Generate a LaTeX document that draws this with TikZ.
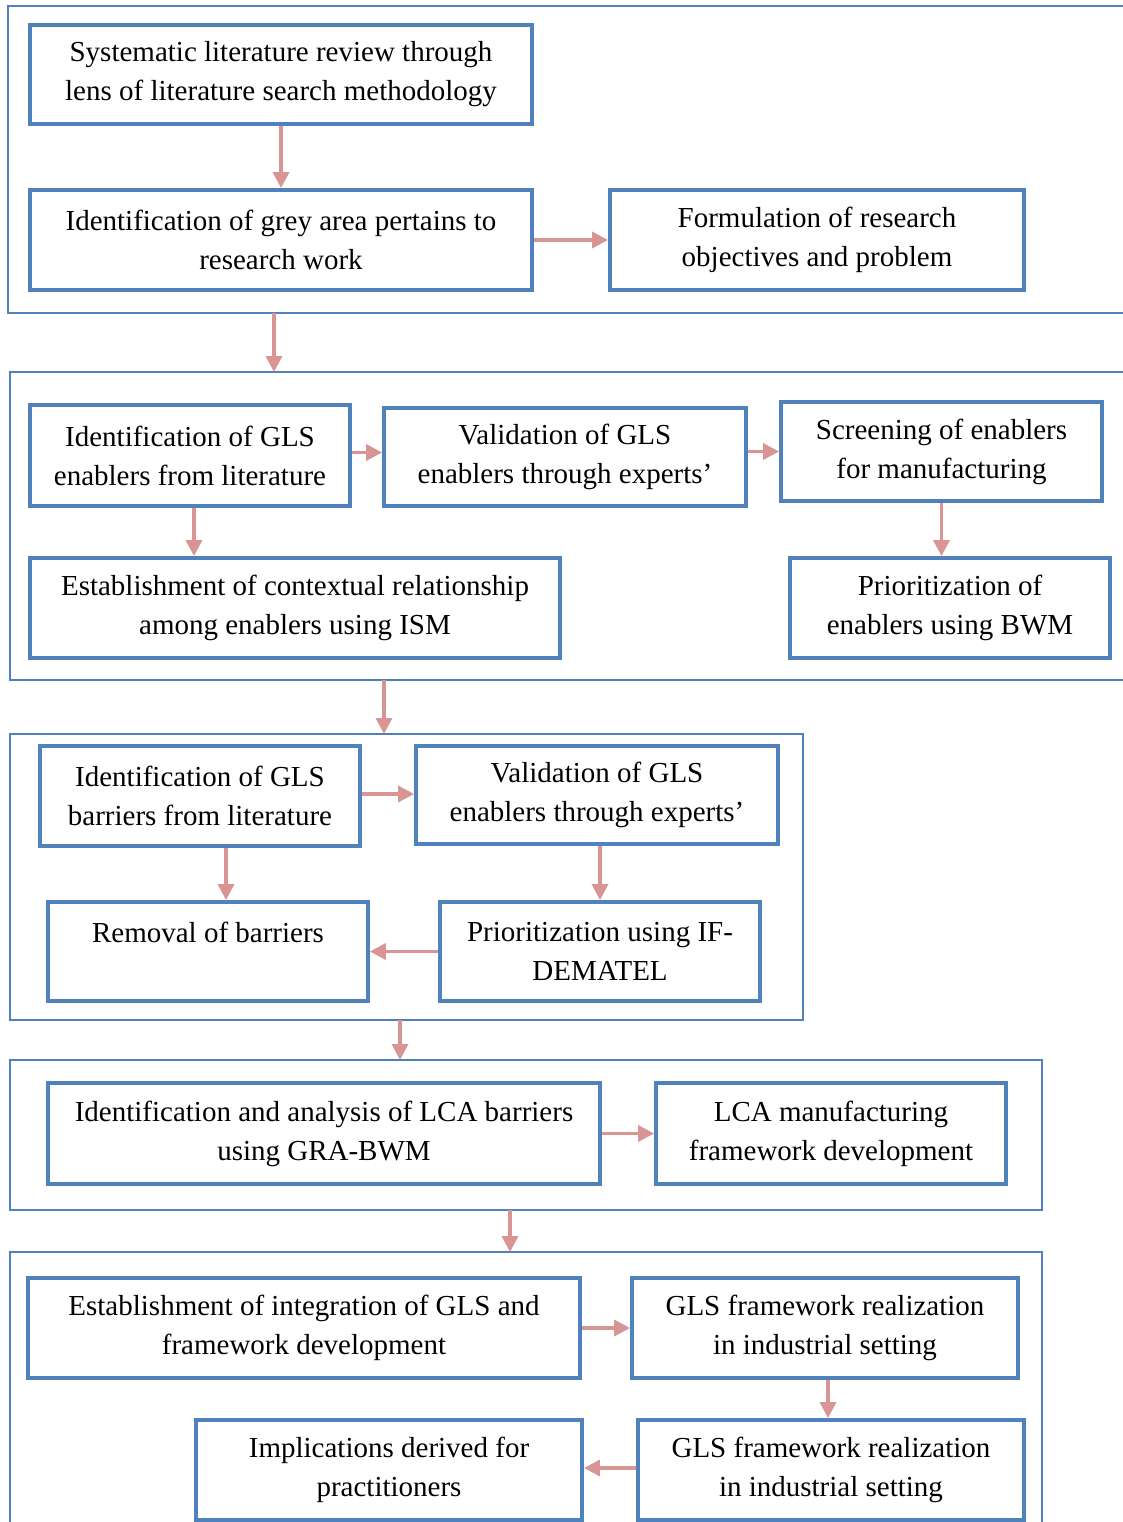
\documentclass[tikz,border=0pt]{standalone}
\usepackage{fontspec}
\setmainfont{Liberation Serif}
\usetikzlibrary{arrows.meta,calc}

\definecolor{boxblue}{HTML}{4F81BD}
\definecolor{arrowpink}{HTML}{D99594}

\tikzset{
  stage/.style={draw=boxblue, line width=3.8pt, rectangle, inner sep=0pt,
    align=center, font=\fontsize{29}{39}\selectfont},
  sz/.style 2 args={minimum width=#1pt, minimum height=#2pt},
  panel/.style={draw=boxblue, line width=2pt},
  flow/.style={draw=arrowpink, line width=3.4pt,
    -{Triangle[length=16pt,width=16pt]}},
}

\begin{document}
\begin{tikzpicture}[x=1pt,y=-1pt]
\useasboundingbox (0,0) rectangle (1122,1522);

% ---- panel frames (some run past the page edge) ----
\draw[panel] (1130,6) -- (8,6) -- (8,313) -- (1130,313);
\draw[panel] (1130,372) -- (10,372) -- (10,680) -- (1130,680);
\draw[panel] (10,734) rectangle (803,1020);
\draw[panel] (10,1060) rectangle (1042,1210);
\draw[panel] (10,1530) -- (10,1252) -- (1042,1252) -- (1042,1530);

% ---- panel hand-over points ----
\coordinate (p1out) at (274,313);
\coordinate (p2in)  at (274,372);
\coordinate (p2out) at (384,680);
\coordinate (p3in)  at (384,734);
\coordinate (p3out) at (400,1020);
\coordinate (p4in)  at (400,1060);
\coordinate (p4out) at (510,1210);
\coordinate (p5in)  at (510,1252);

% ---- panel 1 ----
\node[stage, sz={502}{99}]  (slr)  at (281,74.5) {Systematic literature review through\\lens of literature search methodology};
\node[stage, sz={502}{100}] (grey) at (281,240)  {Identification of grey area pertains to\\research work};
\node[stage, sz={414}{100}] (form) at (817,240)  {Formulation of research\\objectives and problem};

% ---- panel 2 ----
\node[stage, sz={320}{101}] (idEn)  at (190,455.5) {Identification of GLS\\enablers from literature};
\node[stage, sz={362}{98}]  (valEn) at (565,457)   {Validation of GLS\\enablers through experts’};
\node[stage, sz={321}{99}]  (scr)   at (941.5,451.5) {Screening of enablers\\for manufacturing};
\node[stage, sz={530}{100}] (ism)   at (295,608)   {Establishment of contextual relationship\\among enablers using ISM};
\node[stage, sz={320}{100}] (bwm)   at (950,608)   {Prioritization of\\enablers using BWM};

% ---- panel 3 ----
\node[stage, sz={320}{100}] (idBa)  at (200,796)   {Identification of GLS\\barriers from literature};
\node[stage, sz={362}{98}]  (valBa) at (597,795)   {Validation of GLS\\enablers through experts’};
\node[stage, sz={320}{99}]  (rem)   at (208,951.5) {Removal of barriers\\\mbox{}};
\node[stage, sz={320}{99}]  (dem)   at (600,951.5) {Prioritization using IF-\\DEMATEL};

% ---- panel 4 ----
\node[stage, sz={552}{101}] (lca)   at (324,1133.5) {Identification and analysis of LCA barriers\\using GRA-BWM};
\node[stage, sz={350}{101}] (lcafw) at (831,1133.5) {LCA manufacturing\\framework development};

% ---- panel 5 ----
\node[stage, sz={552}{100}] (integ) at (304,1328) {Establishment of integration of GLS and\\framework development};
\node[stage, sz={386}{100}] (real1) at (825,1328) {GLS framework realization\\in industrial setting};
\node[stage, sz={386}{100}] (impl)  at (389,1470) {Implications derived for\\practitioners};
\node[stage, sz={386}{100}] (real2) at (831,1470) {GLS framework realization\\in industrial setting};

% ---- connector start points that sit off the box centres ----
\coordinate (enOut)  at ($(idEn.east)+(0,-3)$);
\coordinate (enDown) at ($(idEn.south)+(4,0)$);
\coordinate (baOut)  at ($(idBa.east)+(0,-2)$);
\coordinate (baDown) at ($(idBa.south)+(26,0)$);
\coordinate (reDown) at ($(real1.south)+(3,0)$);
\coordinate (reOut)  at ($(real2.west)+(0,-2)$);

% ---- connectors inside panels ----
\draw[flow] (slr.south) -- (slr.south |- grey.north);
\draw[flow] (grey.east) -- (grey.east -| form.west);

\draw[flow] (enOut) -- (enOut -| valEn.west);
\draw[flow] (valEn.east |- scr.west) -- (scr.west);
\draw[flow] (enDown) -- (enDown |- ism.north);
\draw[flow] (scr.south) -- (scr.south |- bwm.north);

\draw[flow] (baOut) -- (baOut -| valBa.west);
\draw[flow] (baDown) -- (baDown |- rem.north);
\draw[flow] (valBa.south -| dem.north) -- (dem.north);
\draw[flow] (dem.west) -- (dem.west -| rem.east);

\draw[flow] (lca.east) -- (lca.east -| lcafw.west);

\draw[flow] (integ.east) -- (integ.east -| real1.west);
\draw[flow] (reDown) -- (reDown |- real2.north);
\draw[flow] (reOut) -- (reOut -| impl.east);

% ---- connectors between panels ----
\draw[flow] (p1out) -- (p2in);
\draw[flow] (p2out) -- (p3in);
\draw[flow] (p3out) -- (p4in);
\draw[flow] (p4out) -- (p5in);
\end{tikzpicture}
\end{document}
